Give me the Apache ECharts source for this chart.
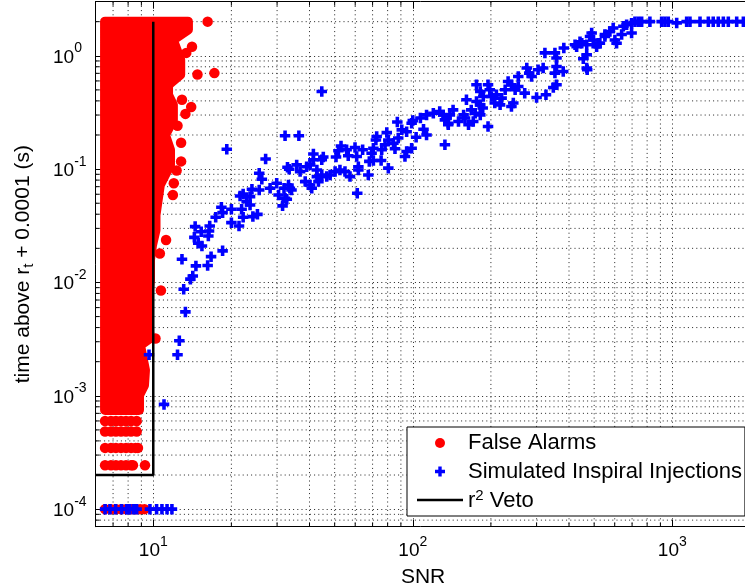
<!DOCTYPE html>
<html><head><meta charset="utf-8">
<script src="https://cdn.jsdelivr.net/npm/echarts@6/dist/echarts.min.js"></script>
<style>html,body{margin:0;padding:0;background:#fff}#c{width:745px;height:587px}</style>
</head><body><div id="c"></div>
<script>
const FONT = '"Liberation Sans", Arial, Helvetica, sans-serif';
const RED = '#ff0000', BLUE = '#0000ff';

// axes
const xRange = [6, 2000];
const yRange = [7e-5, 3];
const xMinorTicks = [7,8,9,20,30,40,50,60,70,80,90,200,300,400,500,600,700,800,900];
const yMinorTicks = [8e-5,9e-5,2e-4,3e-4,4e-4,5e-4,6e-4,7e-4,8e-4,9e-4,
  2e-3,3e-3,4e-3,5e-3,6e-3,7e-3,8e-3,9e-3,0.02,0.03,0.04,0.05,0.06,0.07,0.08,0.09,
  0.2,0.3,0.4,0.5,0.6,0.7,0.8,0.9,2];

// False alarms: outline of the dense cloud [SNR, time]
const falseAlarmBody = [[6.52,2],[13.6,2],[13.6,1.7],[11.9,1.38],[12.7,0.922],[12.7,0.68],[11.4,0.554],
  [11.4,0.452],[11.9,0.369],[11.9,0.272],[11.1,0.2],[11.6,0.148],[11.6,0.109],[10.6,0.0725],[10.4,0.0535],
  [10.2,0.0394],[10.2,0.029],[9.89,0.0214],[9.71,0.0158],[9.71,0.0105],[9.54,0.007],[9.54,0.0042],
  [9.71,0.00323],[8.89,0.0028],[9.05,0.00228],[9.29,0.00168],[9.21,0.00124],[8.81,0.00101],
  [8.81,0.00075],[6.52,0.00075]];
// False alarms: scattered points at the edge of the cloud
const falseAlarmOutliers = [[16.2,2],[14.1,1.2],[13.4,1.06],[14.8,0.683],[17.2,0.703],[12.9,0.409],
  [14.0,0.353],[13.3,0.307],[12.4,0.241],[12.8,0.171],[12.8,0.117],[12.3,0.0974],[12.0,0.0751],
  [11.9,0.0592],[11.2,0.0237],[10.6,0.018],[10.7,0.0085],[10.2,0.0032]];
// False alarms: discrete low-duration rows
const falseAlarmRowTimes = [1e-4, 2.44e-4, 3.47e-4, 4.85e-4, 6.0e-4];
const falseAlarmRowSNR = [
  [6.52,6.87,7.18,7.51,7.85,8.21,8.55,8.9,9.25],
  [6.52,6.87,7.18,7.51,7.85,8.21,8.35,9.29],
  [6.52,6.87,7.18,7.51,7.85,8.21,8.55,8.73],
  [6.52,6.87,7.18,7.51,7.85,8.21,8.63],
  [6.52,6.87,7.18,7.51,7.85,8.21,8.63]
];

// Simulated inspiral injections [SNR, time]
const injectionsLow = [[32.2,0.197],[36.4,0.197],[19.2,0.150],[27.1,0.123],[32.9,0.104],[35.7,0.109],
  [25.6,0.092],[26.2,0.0815],[29.9,0.0751],[33.2,0.0725],[34.1,0.0655],[28.2,0.0679],[24.0,0.0665],
  [25.6,0.0655],[22.2,0.0604],[23.6,0.0572],[30.4,0.0592],[32.7,0.0542],[21.6,0.058],[22.9,0.0517],
  [23.6,0.0483],[31.5,0.0474],[18.3,0.0461],[20.0,0.0443],[18.5,0.0413],[21.9,0.0443],[17.4,0.0376],
  [25.2,0.0399],[24.2,0.0381],[22.2,0.0376],[20.0,0.0337],[21.4,0.0315],[14.5,0.0311],[16.5,0.0315],
  [15.3,0.028],[16.4,0.0284],[16.3,0.0257],[14.4,0.025],[14.9,0.0222],[15.4,0.021],[18.5,0.019],
  [12.9,0.016],[16.7,0.0169],[14.6,0.014],[16.2,0.0141],[14.2,0.0114],[13.9,0.0107],[13.1,0.0087],
  [13.3,0.0055],[12.6,0.00306],[12.4,0.0023],[9.63,0.0023],[11.0,0.00084]];
const injectionsMid = [[44.6,0.484],[87.2,0.26],[99.0,0.254],[100,0.268],[107,0.282],[113,0.301],
  [120,0.311],[127,0.322],[131,0.301],[135,0.282],[137,0.254],[110,0.225],[113,0.2],[133,0.164],
  [103,0.191],[94.7,0.214],[90.7,0.222],[87.9,0.188],[99.0,0.153],[94.7,0.143],[93.3,0.129],
  [79.4,0.21],[72.6,0.194],[72.1,0.181],[80.5,0.181],[84.2,0.169],[85.4,0.151],[78.2,0.164],
  [75.9,0.148],[70.5,0.153],[69.4,0.138],[70.5,0.119],[68.0,0.117],[75.5,0.119],[80.5,0.102],
  [67.4,0.0889],[64.1,0.148],[59.9,0.155],[60.8,0.129],[56.4,0.131],[52.9,0.160],[51.7,0.145],
  [50.6,0.128],[55.6,0.148],[61.7,0.105],[61.7,0.0984],[57.3,0.0859],[54.8,0.0951],[52.4,0.0984],
  [50.2,0.0951],[48.0,0.0889],[46.6,0.0859],[44.6,0.0889],[42.7,0.0859],[44.6,0.121],[45.2,0.128],
  [41.4,0.136],[41.4,0.121],[40.2,0.109],[39.0,0.105],[33.4,0.0999],[36.8,0.0951],[42.7,0.0984],
  [43.3,0.0776],[38.5,0.0776],[40.2,0.0725],[40.8,0.0679],[33.6,0.0679],[31.9,0.0679],[32.2,0.0553],
  [61.1,0.0612]];
const injectionsHigh = [[133,0.272],[139,0.301],[143,0.333],[137,0.246],[150,0.263],[157,0.301],
  [161,0.409],[159,0.282],[164,0.246],[171,0.263],[174,0.311],[168,0.333],[176,0.395],[182,0.369],
  [176,0.555],[182,0.484],[187,0.437],[186,0.346],[182,0.301],[195,0.555],[198,0.501],[201,0.437],
  [195,0.238],[210,0.453],[207,0.383],[220,0.423],[217,0.369],[227,0.501],[233,0.593],[240,0.555],
  [255,0.656],[248,0.501],[255,0.536],[244,0.383],[240,0.357],[270,0.468],[275,0.779],[281,0.703],
  [287,0.656],[304,0.752],[318,0.779],[300,0.428],[326,0.453],[323,1.06],[353,1.06],[358,0.955],
  [358,0.805],[353,0.703],[380,0.726],[358,0.555],[348,0.525],[382,1.17],[428,1.2],[448,1.29],
  [468,1.25],[489,1.59],[496,1.38],[511,1.2],[519,1.29],[468,1.02],[454,0.941],[468,0.779],
  [550,1.48],[575,1.64],[422,1.25],[441,1.33],[482,1.48],[526,1.29],[550,1.54],[592,1.76],
  [601,1.38],[610,1.29],[638,1.54],[648,1.82],[667,1.88],[697,1.94],[697,1.59],[470,0.752]];
const injectionsSaturated = [[718,2],[740,2],[762,2],[820,2],[910,2],[937,2],[965,2],[1040,1.95],
  [1136,2],[1170,2],[1279,2],[1377,2],[1438,2],[1504,2],[1573,2],[1644,2],[1771,2],[1879,2]];
const injectionsFloor = [[6.52,1e-4],[6.81,1e-4],[7.16,1e-4],[7.55,1e-4],[7.90,1e-4],[8.08,1e-4],
  [8.37,1e-4],[8.63,1e-4],[9.71,1e-4],[10.3,1e-4],[10.8,1e-4],[11.3,1e-4],[11.8,1e-4]];

// r^2 veto boundary
const vetoSNR = [6, 10, 10];
const vetoTime = [2e-4, 2e-4, 2];

const CROSS = 'path://M3.3,0H6.7V3.3H10V6.7H6.7V10H3.3V6.7H0V3.3H3.3Z';
const LINE_ICON = 'path://M0,0H46V2.5H0Z';

const falseAlarmPoints = falseAlarmOutliers.slice();
falseAlarmRowTimes.forEach((t, i) => falseAlarmRowSNR[i].forEach(s => falseAlarmPoints.push([s, t])));
const injectionPoints = [].concat(injectionsFloor, injectionsLow, injectionsMid, injectionsHigh, injectionsSaturated);
const vetoLine = vetoSNR.map((s, i) => [s, vetoTime[i]]);

function powLabel(v) {
  const e = Math.log10(v), r = Math.round(e);
  if (Math.abs(e - r) > 1e-6) return '';
  return '{b|10}{s|' + (r < 0 ? '-' + (-r) : r) + '}';
}
const tickRich = {
  b: {fontSize: 19, fontFamily: FONT, color: '#000', lineHeight: 20, verticalAlign: 'bottom'},
  s: {fontSize: 14, fontFamily: FONT, color: '#000', lineHeight: 25.5, verticalAlign: 'top'}
};
const dotted = {stroke: '#222', lineWidth: 1, lineDash: [1, 3.2]};

const chart = echarts.init(document.getElementById('c'), null, {renderer: 'canvas'});
chart.setOption({
  animation: false,
  backgroundColor: '#fff',
  grid: {left: 95.7, top: 1.7, width: 654.7, height: 525, containLabel: false, outerBoundsMode: 'none'},
  legend: {
    orient: 'vertical', left: 407, top: 427,
    padding: [4, 3, 4, 10], itemGap: 4.5,
    itemWidth: 46, itemHeight: 10,
    backgroundColor: '#fff', borderColor: '#000', borderWidth: 1, borderRadius: 0,
    selectedMode: false,
    textStyle: {fontSize: 22, fontFamily: FONT, color: '#000', lineHeight: 24,
      rich: {
        t: {fontSize: 22, fontFamily: FONT, color: '#000', lineHeight: 24, verticalAlign: 'bottom'},
        sup: {fontSize: 15, fontFamily: FONT, color: '#000', lineHeight: 22, verticalAlign: 'top'}
      }},
    formatter: n => n === 'r2 Veto' ? '{t|r}{sup|2}{t| Veto}' : n,
    data: [
      {name: 'False Alarms', icon: 'circle'},
      {name: 'Simulated Inspiral Injections', icon: CROSS},
      {name: 'r2 Veto', icon: LINE_ICON}
    ]
  },
  xAxis: [{
    type: 'log', logBase: 10, min: xRange[0], max: xRange[1],
    name: 'SNR', nameLocation: 'middle', nameGap: 40,
    nameTextStyle: {fontSize: 21, fontFamily: FONT, color: '#000'},
    axisLine: {show: true, onZero: false, lineStyle: {color: '#000', width: 1}},
    axisTick: {show: true, inside: true, length: 7, lineStyle: {color: '#000'}},
    axisLabel: {margin: 8, formatter: powLabel, rich: tickRich, color: '#000'},
    splitLine: {show: true, lineStyle: {color: '#222', width: 1, type: [1, 3.2]}}
  }, {
    type: 'log', logBase: 10, min: xRange[0], max: xRange[1], position: 'top',
    axisLine: {show: true, onZero: false, lineStyle: {color: '#000', width: 1}},
    axisTick: {show: true, inside: true, length: 7, lineStyle: {color: '#000'}},
    axisLabel: {show: false}, splitLine: {show: false}
  }],
  yAxis: [{
    type: 'log', logBase: 10, min: yRange[0], max: yRange[1],
    name: '{a|time above r}{sub|t}{a| + 0.0001 (s)}', nameLocation: 'middle', nameRotate: 90, nameGap: 59,
    nameTextStyle: {color: '#000', rich: {
      a: {fontSize: 21, fontFamily: FONT, color: '#000', lineHeight: 24, verticalAlign: 'top'},
      sub: {fontSize: 15, fontFamily: FONT, color: '#000', lineHeight: 15, verticalAlign: 'bottom'}
    }},
    axisLine: {show: true, onZero: false, lineStyle: {color: '#000', width: 1}},
    axisTick: {show: true, inside: true, length: 7, lineStyle: {color: '#000'}},
    axisLabel: {align: 'left', margin: 42.7, formatter: powLabel, rich: tickRich, color: '#000', padding: [0,0,3,0]},
    splitLine: {show: true, lineStyle: {color: '#222', width: 1, type: [1, 3.2]}}
  }],
  series: [
    {
      type: 'custom', name: 'minorX', silent: true, z: 1,
      data: xMinorTicks.map(v => [v, 1]),
      renderItem: (params, api) => {
        const cs = params.coordSys;
        const x = api.coord([api.value(0), 1])[0];
        const b = cs.y + cs.height;
        return {type: 'group', children: [
          {type: 'line', shape: {x1: x, y1: cs.y, x2: x, y2: b}, style: dotted},
          {type: 'line', shape: {x1: x, y1: b, x2: x, y2: b - 4}, style: {stroke: '#000', lineWidth: 1}},
          {type: 'line', shape: {x1: x, y1: cs.y, x2: x, y2: cs.y + 4}, style: {stroke: '#000', lineWidth: 1}}
        ]};
      }
    },
    {
      type: 'custom', name: 'minorY', silent: true, z: 1,
      data: yMinorTicks.map(v => [10, v]),
      renderItem: (params, api) => {
        const cs = params.coordSys;
        const y = api.coord([10, api.value(1)])[1];
        return {type: 'group', children: [
          {type: 'line', shape: {x1: cs.x, y1: y, x2: cs.x + cs.width, y2: y}, style: dotted},
          {type: 'line', shape: {x1: cs.x, y1: y, x2: cs.x + 4, y2: y}, style: {stroke: '#000', lineWidth: 1}}
        ]};
      }
    },
    {
      type: 'scatter', name: 'False Alarms', symbol: 'circle', symbolSize: 10.5,
      itemStyle: {color: RED, opacity: 1}, data: falseAlarmPoints, z: 3
    },
    {
      type: 'custom', name: 'False Alarms', silent: true, z: 3,
      data: falseAlarmBody,
      renderItem: (params, api) => {
        if (params.dataIndex !== 0) return null;
        const pts = falseAlarmBody.map(p => api.coord(p));
        return {type: 'polygon', shape: {points: pts},
          style: {fill: RED, stroke: RED, lineWidth: 10, lineJoin: 'round'}};
      }
    },
    {
      type: 'scatter', name: 'Simulated Inspiral Injections', symbol: CROSS, symbolSize: 10.5,
      itemStyle: {color: BLUE, opacity: 1}, data: injectionPoints, z: 4
    },
    {
      type: 'line', name: 'r2 Veto', data: vetoLine, symbol: 'none', showSymbol: false, z: 5,
      lineStyle: {color: '#000', width: 2.5}, itemStyle: {color: '#000'}
    }
  ]
});
</script>
</body></html>
